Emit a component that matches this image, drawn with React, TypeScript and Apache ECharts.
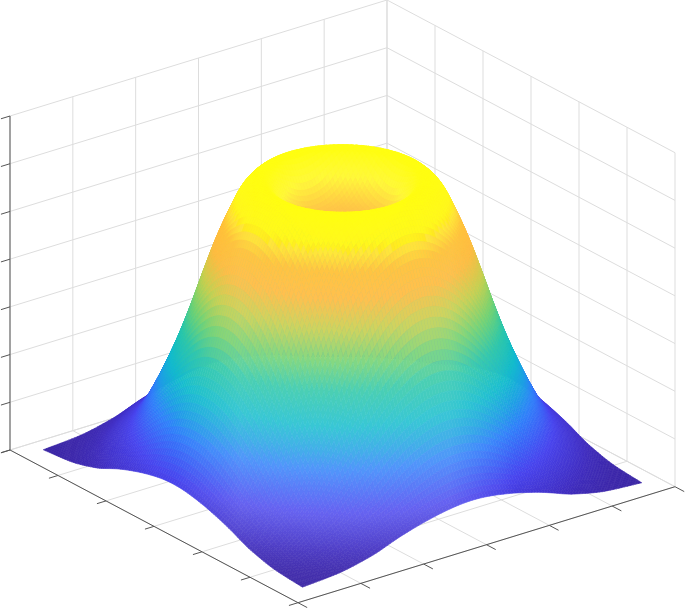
import React, { useEffect, useRef } from "react";
import * as echarts from "echarts";

const W = 685;
const H = 608;

// Box ticks, as fractions of each axis of the 3D box
const uTicks = [0, 1, 2, 3, 4, 5, 6];
const vTicks = [0, 1, 2, 3, 4, 5, 6];
const zTicks = [0, 1, 2, 3, 4, 5, 6, 7];

// Surface profile: distance from the centre of the surface
// (1 = middle of its edge) and height there (share of the box height).
const profileRadius = [
  0, 0.1, 0.2, 0.26, 0.31, 0.36, 0.4, 0.44, 0.48, 0.54, 0.6, 0.66, 0.72, 0.786,
  0.857, 0.9, 0.95, 1, 1.02, 1.08, 1.166, 1.28, 1.42,
];
const profileHeight = [
  0.7, 0.71, 0.735, 0.775, 0.825, 0.86, 0.865, 0.85, 0.822, 0.75, 0.665, 0.565,
  0.46, 0.355, 0.258, 0.205, 0.15, 0.11, 0.098, 0.07, 0.035, 0.014, 0.006,
];

// Colour by height
const colorStops: [number, number[]][] = [
  [0.0, [58, 36, 160]],
  [0.05, [64, 46, 195]],
  [0.12, [72, 68, 238]],
  [0.16, [62, 92, 245]],
  [0.22, [48, 128, 250]],
  [0.27, [30, 160, 228]],
  [0.33, [18, 188, 205]],
  [0.42, [40, 198, 165]],
  [0.5, [110, 208, 105]],
  [0.58, [195, 204, 65]],
  [0.66, [255, 180, 45]],
  [0.73, [255, 185, 30]],
  [0.8, [255, 248, 15]],
  [0.88, [255, 255, 0]],
];

// Projection of the box on the page
const origin = [298, 602.7];
const axisU = [-288, -152.7];
const axisV = [377, -116];
const axisZ = [0, -334];
const project = (u: number, v: number, z: number) => [
  origin[0] + u * axisU[0] + v * axisV[0],
  origin[1] + u * axisU[1] + v * axisV[1] + z * axisZ[1],
];

const margin = 0.05;
const n = 120;

// Monotone cubic through the profile table
const slopes = (() => {
  const d = profileRadius.slice(1).map(
    (r, k) => (profileHeight[k + 1] - profileHeight[k]) / (r - profileRadius[k]),
  );
  return profileRadius.map((_, k) => {
    if (k === 0) return 0;
    if (k === profileRadius.length - 1) return d[k - 1];
    if (d[k - 1] * d[k] <= 0) return 0;
    return (2 * d[k - 1] * d[k]) / (d[k - 1] + d[k]);
  });
})();
const profileAt = (r: number) => {
  let k = 0;
  while (k < profileRadius.length - 2 && r > profileRadius[k + 1]) k++;
  const h = profileRadius[k + 1] - profileRadius[k];
  const t = (r - profileRadius[k]) / h;
  const t2 = t * t;
  const t3 = t2 * t;
  return (
    (2 * t3 - 3 * t2 + 1) * profileHeight[k] +
    (t3 - 2 * t2 + t) * h * slopes[k] +
    (-2 * t3 + 3 * t2) * profileHeight[k + 1] +
    (t3 - t2) * h * slopes[k + 1]
  );
};
const radiusAt = (a: number, b: number) =>
  Math.hypot((a / n) * 2 - 1, (b / n) * 2 - 1);

const colorFor = (z: number, x: number, r: number) => {
  let c = colorStops[colorStops.length - 1][1];
  for (let k = 0; k < colorStops.length - 1; k++) {
    const [z0, c0] = colorStops[k];
    const [z1, c1] = colorStops[k + 1];
    if (z <= z1) {
      const t = Math.max(0, (z - z0) / (z1 - z0));
      c = c0.map((v, m) => v + (c1[m] - v) * t);
      break;
    }
  }
  const d = Math.abs(x - 345);
  const w = d < 105 ? 1 : d > 170 ? 0 : (170 - d) / 65;
  const low = Math.min(1, 0.15 + z / 0.13);
  const high = z > 0.78 ? 0.35 : 1;
  const outer = 0.16 * w * low * high;
  const ramp = Math.min(1, Math.max(0, (r - 0.28) / 0.08));
  const mix = 0.18 + (outer - 0.18) * ramp;
  const out = c.map((v) => Math.round(v + (255 - v) * mix));
  return `rgb(${out[0]},${out[1]},${out[2]})`;
};

type Seg = [number, number, number, number, number, number];
const gridSegs: Seg[] = [];
uTicks.forEach((t) => {
  const f = t / 6;
  gridSegs.push([f, 0, 0, f, 1, 0]);
  gridSegs.push([f, 1, 0, f, 1, 1]);
});
vTicks.forEach((t) => {
  const f = t / 6;
  gridSegs.push([0, f, 0, 1, f, 0]);
  gridSegs.push([1, f, 0, 1, f, 1]);
});
zTicks.forEach((t) => {
  const f = t / 7;
  gridSegs.push([1, 0, f, 1, 1, f]);
  gridSegs.push([1, 1, f, 0, 1, f]);
});

const axisSegs: Seg[] = [
  [0, 0, 0, 1, 0, 0],
  [0, 0, 0, 0, 1, 0],
  [1, 0, 0, 1, 0, 1],
];
const tickLen = 0.024;
uTicks.forEach((t) => {
  const f = t / 6;
  axisSegs.push([f, 0, 0, f, -tickLen, 0]);
});
vTicks.forEach((t) => {
  const f = t / 6;
  axisSegs.push([0, f, 0, -0.032, f, 0]);
});
zTicks.forEach((t) => {
  const f = t / 7;
  axisSegs.push([1, 0, f, 1, -tickLen, f]);
});

const cells: number[][] = [];
for (let i = n - 1; i >= 0; i--) {
  for (let j = n - 1; j >= 0; j--) {
    cells.push([i, j]);
  }
}
const toUV = (s: number) => margin + (s / n) * (1 - 2 * margin);

const segRender = (stroke: string) => (_: any, api: any) => {
  const a = project(api.value(0), api.value(1), api.value(2));
  const b = project(api.value(3), api.value(4), api.value(5));
  const p = api.coord(a);
  const q = api.coord(b);
  return {
    type: "line",
    shape: { x1: p[0], y1: p[1], x2: q[0], y2: q[1] },
    style: { stroke, lineWidth: 1 },
    silent: true,
  };
};

const surfaceRender = (_: any, api: any) => {
  const i = api.value(0);
  const j = api.value(1);
  const corners = [
    [i, j],
    [i + 1, j],
    [i + 1, j + 1],
    [i, j + 1],
  ];
  let sum = 0;
  let sx = 0;
  const pts = corners.map(([a, b]) => {
    const z = profileAt(radiusAt(a, b));
    sum += z;
    const p = project(toUV(a), toUV(b), z);
    sx += p[0];
    return api.coord(p);
  });
  const fill = colorFor(sum / 4, sx / 4, radiusAt(i + 0.5, j + 0.5));
  return {
    type: "polygon",
    shape: { points: pts },
    style: { fill, stroke: fill, lineWidth: 0.6 },
    silent: true,
  };
};

export default function App() {
  const ref = useRef<HTMLDivElement>(null);
  useEffect(() => {
    document.body.style.margin = "0";
    const chart = echarts.init(ref.current!, undefined, { renderer: "svg" });
    chart.setOption({
      animation: false,
      backgroundColor: "#ffffff",
      tooltip: { show: false },
      grid: { left: 0, right: 0, top: 0, bottom: 0 },
      xAxis: { type: "value", min: 0, max: W, show: false },
      yAxis: { type: "value", min: 0, max: H, inverse: true, show: false },
      series: [
        {
          type: "custom",
          clip: false,
          silent: true,
          progressive: 0,
          renderItem: segRender("#dddddd"),
          data: gridSegs,
          encode: { x: 0, y: 1 },
          z: 1,
        },
        {
          type: "custom",
          clip: false,
          silent: true,
          progressive: 0,
          renderItem: segRender("#555555"),
          data: axisSegs,
          encode: { x: 0, y: 1 },
          z: 2,
        },
        {
          type: "custom",
          clip: false,
          silent: true,
          progressive: 0,
          renderItem: surfaceRender,
          data: cells,
          encode: { x: 0, y: 1 },
          z: 3,
        },
      ],
    });
    return () => chart.dispose();
  }, []);
  return <div ref={ref} style={{ width: W, height: H }} />;
}
